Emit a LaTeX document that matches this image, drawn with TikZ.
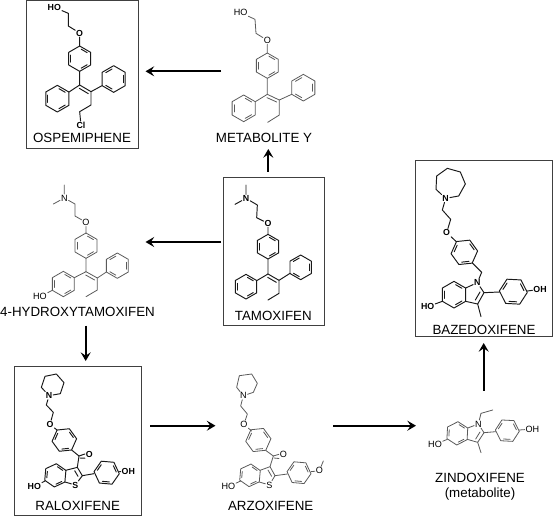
\documentclass[tikz,border=0pt]{standalone}
\usepackage{fontspec}
\setmainfont{Liberation Sans}
\usetikzlibrary{arrows.meta}
\definecolor{bondgray}{HTML}{5A5A5A}
\newcommand{\hexring}[4]{%
  \draw ({#1+#3*cos(#4)},{#2-#3*sin(#4)})
    -- ({#1+#3*cos(#4+60)},{#2-#3*sin(#4+60)})
    -- ({#1+#3*cos(#4+120)},{#2-#3*sin(#4+120)})
    -- ({#1+#3*cos(#4+180)},{#2-#3*sin(#4+180)})
    -- ({#1+#3*cos(#4+240)},{#2-#3*sin(#4+240)})
    -- ({#1+#3*cos(#4+300)},{#2-#3*sin(#4+300)}) -- cycle;
  \foreach \hexa in {0,120,240}{
    \draw ({#1+.76*#3*cos(#4+\hexa+9)},{#2-.76*#3*sin(#4+\hexa+9)})
       -- ({#1+.76*#3*cos(#4+\hexa+51)},{#2-.76*#3*sin(#4+\hexa+51)});
  }%
}
\tikzset{
  zoomed/.style 2 args={xshift=#1*0.75pt,yshift=-#2*0.75pt,x=0.25pt,y=-0.25pt},
  blackmol/.style={line width=.72pt,black!90,line cap=round,line join=round,
     atom/.style={font=\fontsize{6.6}{7}\selectfont\bfseries,inner sep=.4pt,text=black}},
  graymol/.style={line width=.6pt,bondgray,line cap=round,line join=round,
     atom/.style={font=\fontsize{6.8}{7}\selectfont,inner sep=.4pt,text=black}},
  panel/.style={draw=black!75,line width=.75pt,inner sep=0pt},
  drugname/.style={font=\fontsize{10}{11}\selectfont,inner sep=0pt,text=black},
  pathway/.style={line width=1.5pt,-{Stealth[length=6.5pt,width=7.5pt,inset=2.5pt]}},
}
\begin{document}
\begin{tikzpicture}[x=0.75pt,y=-0.75pt]
\useasboundingbox (0,0) rectangle (553,515);
% panels
\node[panel,minimum width=84.3pt,minimum height=110.3pt] (ospBox) at (82.2,74.5) {};
\node[panel,minimum width=75.5pt,minimum height=110.7pt] (tamBox) at (273.7,251.5) {};
\node[panel,minimum width=95.7pt,minimum height=111.5pt] (ralBox) at (77.8,440.7) {};
\node[panel,minimum width=102.2pt,minimum height=132pt] (bazBox) at (484,248.5) {};
% names
\node[drugname] (ospName) at (82,138.3) {OSPEMIPHENE};
\node[drugname] (metName) at (264,138.3) {METABOLITE Y};
\node[drugname] (tamName) at (273.3,316) {TAMOXIFEN};
\node[drugname] (hydName) at (77.5,312.3) {4-HYDROXYTAMOXIFEN};
\node[drugname] (ralName) at (77.7,506.3) {RALOXIFENE};
\node[drugname] (arzName) at (270.7,506.3) {ARZOXIFENE};
\node[drugname] (zinName) at (480,477.7) {ZINDOXIFENE};
\node[drugname] (zinNote) at (480,494.3) {(metabolite)};
\node[drugname] (bazName) at (484,330) {BAZEDOXIFENE};
% arrow ends
\coordinate (a1t) at (221,71.3);   \coordinate (a1h) at (145.5,71.3);
\coordinate (a2t) at (268.3,171.7);\coordinate (a2h) at (268.3,149);
\coordinate (a3t) at (221,242);    \coordinate (a3h) at (145.5,242);
\coordinate (a4t) at (85.7,325.7); \coordinate (a4h) at (85.7,361);
\coordinate (a5t) at (150,425.7);  \coordinate (a5h) at (215.5,425.7);
\coordinate (a6t) at (333.3,425.7);\coordinate (a6h) at (416,425.7);
\coordinate (a7t) at (483.7,390.7);\coordinate (a7h) at (483.7,343);
\foreach \s/\e in {a1t/a1h,a2t/a2h,a3t/a3h,a4t/a4h,a5t/a5h,a6t/a6h,a7t/a7h}
  \draw[pathway] (\s) -- (\e);
% Ospemiphene
\begin{scope}[zoomed={0}{0},blackmol]
  \node[atom] (ospHO) at (163,22) {HO};
  \node[atom] (ospO) at (239,99) {O};
  \node[atom] (ospCl) at (243,376) {Cl};
  \draw (ospHO) -- (205,40) -- (205,78) -- (ospO) -- (239,138);
  \hexring{239}{176}{38}{30}
  \hexring{172}{296}{40}{30}
  \hexring{341}{237}{40}{90}
  \draw (239,214) -- (239,255) -- (207,276);
  \draw (239,255) -- (273,275) -- (306,257);
  \draw (238,265) -- (265,281);
  \draw (273,275) -- (273,315) -- (239,335) -- (ospCl);
\end{scope}
% Metabolite Y
\begin{scope}[zoomed={180}{0},graymol]
  \node[atom] (metHO) at (182,38) {HO};
  \node[atom] (metO) at (262,121) {O};
  \draw (metHO) -- (225,58) -- (228,100) -- (metO) -- (262,159);
  \hexring{262}{197}{38}{30}
  \hexring{191}{325}{40}{30}
  \hexring{370}{263}{40}{90}
  \draw (262,235) -- (262,283) -- (226,305);
  \draw (262,283) -- (298,300) -- (335,283);
  \draw (261,293) -- (290,306);
  \draw (298,300) -- (298,345) -- (263,367);
\end{scope}
% Tamoxifen
\begin{scope}[zoomed={210}{170},blackmol]
  \node[atom] (tamN) at (108,85) {N};
  \node[atom] (tamO) at (174,160) {O};
  \draw (108,45) -- (tamN) -- (75,103);
  \draw (tamN) -- (142,105) -- (140,143) -- (tamO) -- (174,193);
  \hexring{174}{230}{37}{30}
  \hexring{108}{350}{37}{30}
  \hexring{272}{292}{37}{90}
  \draw (174,267) -- (174,312) -- (140,332);
  \draw (174,312) -- (207,331) -- (240,310);
  \draw (173,322) -- (199,337);
  \draw (207,331) -- (207,370) -- (174,390);
\end{scope}
% 4-Hydroxytamoxifen
\begin{scope}[zoomed={0}{180},graymol]
  \node[atom] (hydN) at (193,54) {N};
  \node[atom] (hydO) at (258,127) {O};
  \node[atom] (hydHO) at (120,350) {HO};
  \draw (193,15) -- (hydN) -- (160,72);
  \draw (hydN) -- (225,72) -- (225,108) -- (hydO) -- (258,159);
  \hexring{258}{197}{38}{30}
  \hexring{190}{312}{38}{30}
  \hexring{352}{257}{38}{90}
  \draw (hydHO) -- (157,331);
  \draw (258,235) -- (258,275) -- (223,293);
  \draw (258,275) -- (292,294) -- (319,276);
  \draw (257,285) -- (284,300);
  \draw (292,294) -- (292,330) -- (258,350);
\end{scope}
% Raloxifene
\begin{scope}[zoomed={0}{355},blackmol]
  \node[atom] (ralN) at (147,122) {N};
  \node[atom] (ralO1) at (150,208) {O};
  \node[atom] (ralO2) at (268,297) {O};
  \node[atom] (ralS) at (226,390) {S};
  \node[atom] (ralHO) at (103,395) {HO};
  \node[atom] (ralOH) at (385,349) {OH};
  \draw (ralN) -- (124,97) -- (135,64) -- (169,57) -- (192,83) -- (181,116) -- (ralN);
  \draw (ralN) -- (139,150) -- (160,172) -- (ralO1) -- (171,225);
  \hexring{193}{255}{37}{6}
  \draw (215,285) -- (237,303) -- (ralO2.west);
  \draw (240,309) -- (ralO2.south west);
  \draw (237,303) -- (232,337);
  \hexring{166}{361}{35}{25}
  \draw (197,346) -- (232,337) -- (247,362) -- (ralS) -- (195,381);
  \draw (224,347) -- (234,364);
  \draw (135,378) -- (ralHO);
  \draw (247,362) -- (282,356);
  \hexring{320}{353}{38}{-5}
  \draw (358,350) -- (ralOH);
\end{scope}
% Arzoxifene
\begin{scope}[zoomed={200}{355},graymol]
  \node[atom] (arzN) at (130,122) {N};
  \node[atom] (arzO1) at (132,208) {O};
  \node[atom] (arzO2) at (250,298) {O};
  \node[atom] (arzS) at (208,390) {S};
  \node[atom] (arzHO) at (85,395) {HO};
  \node[atom] (arzO3) at (358,347) {O};
  \draw (arzN) -- (110,97) -- (118,62) -- (155,57) -- (172,85) -- (160,112) -- (arzN);
  \draw (arzN) -- (122,153) -- (142,177) -- (arzO1) -- (155,228);
  \hexring{175}{255}{38}{6}
  \draw (197,286) -- (220,303) -- (arzO2.west);
  \draw (222,309) -- (arzO2.south west);
  \draw (220,303) -- (210,335);
  \hexring{150}{361}{34}{25}
  \draw (180,346) -- (210,335) -- (225,362) -- (arzS) -- (178,381);
  \draw (204,345) -- (215,364);
  \draw (122,378) -- (arzHO);
  \draw (225,362) -- (262,357);
  \hexring{297}{353}{36}{-5}
  \draw (333,350) -- (arzO3) -- (370,318);
\end{scope}
% Zindoxifene
\begin{scope}[zoomed={400}{400},graymol]
  \node[atom] (zinN) at (235,72) {N};
  \node[atom] (zinHO) at (105,133) {HO};
  \node[atom] (zinOH) at (397,87) {OH};
  \hexring{172}{100}{35}{27}
  \draw (203,84) -- (zinN) -- (252,98) -- (233,127) -- (202,118);
  \draw (240,96) -- (227,117);
  \draw (zinN) -- (243,40) -- (278,30);
  \draw (233,127) -- (243,158);
  \draw (142,118) -- (zinHO);
  \draw (252,98) -- (287,95);
  \hexring{322}{92}{36}{-3}
  \draw (358,90) -- (zinOH);
\end{scope}
% Bazedoxifene
\begin{scope}[zoomed={400}{160},blackmol]
  \node[atom] (bazN1) at (137,115) {N};
  \node[atom] (bazO) at (140,218) {O};
  \node[atom] (bazN2) at (232,368) {N};
  \node[atom] (bazHO) at (83,440) {HO};
  \node[atom] (bazOH) at (420,388) {OH};
  \draw (bazN1) -- (176,108) -- (196,72) -- (181,36) -- (142,25) -- (110,48) -- (108,88) -- (bazN1);
  \draw (bazN1) -- (127,150) -- (152,178) -- (bazO) -- (169,245);
  \hexring{193}{277}{40}{6}
  \draw (217,309) -- (245,337) -- (bazN2);
  \hexring{162}{404}{40}{30}
  \draw (197,384) -- (bazN2) -- (252,398) -- (233,432) -- (197,424);
  \draw (240,396) -- (226,420);
  \draw (233,432) -- (243,470);
  \draw (127,424) -- (bazHO);
  \draw (252,398) -- (298,396);
  \hexring{340}{395}{42}{-3}
  \draw (382,393) -- (bazOH);
\end{scope}
\end{tikzpicture}
\end{document}
